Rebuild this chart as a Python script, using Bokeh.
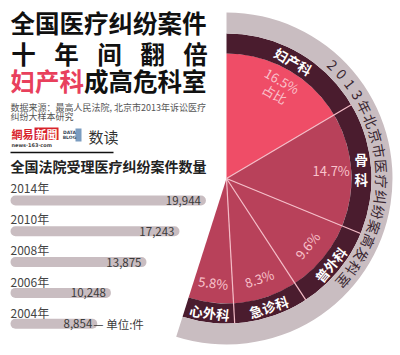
import numpy as np
from bokeh.plotting import figure
from bokeh.models import Range1d, ColumnDataSource
from bokeh.embed import file_html
from bokeh.resources import INLINE
from bokeh.core.properties import value

# ---------------- data ----------------
years = ["2014年", "2010年", "2008年", "2006年", "2004年"]
cases = [19944, 17243, 13875, 10248, 8854]
case_labels = ["19,944", "17,243", "13,875", "10,248", "8,854"]
unit_label = "— 单位:件"

departments = ["妇产科", "骨科", "普外科", "急诊科", "心外科"]
shares = [16.5, 14.7, 9.6, 8.3, 5.8]
share_labels = ["16.5%\n占比", "14.7%", "9.6%", "8.3%", "5.8%"]

ring_title = "2013年北京市医疗纠纷案高发科室"
title_1 = "全国医疗纠纷案件"
title_2 = "十年间翻倍"
title_3a = "妇产科"
title_3b = "成高危科室"
source_1 = "数据来源：最高人民法院, 北京市2013年诉讼医疗"
source_2 = "纠纷大样本研究"
bar_title = "全国法院受理医疗纠纷案件数量"

# ---------------- layout ----------------
W, H = 400, 355
FONT = value("Noto Sans CJK SC")

def Y(img_y):
    return H - img_y

PX_PER_CASE = 0.0098
BAR_X0 = 10

p = figure(width=W, height=H, x_range=Range1d(0, W), y_range=Range1d(0, H),
           output_backend="svg", toolbar_location=None, min_border=0,
           x_axis_location=None, y_axis_location=None)
p.xgrid.visible = False
p.ygrid.visible = False
p.outline_line_color = None
p.background_fill_color = "white"
p.border_fill_color = "white"
p.extra_x_ranges = {"cases": Range1d(-BAR_X0 / PX_PER_CASE, (W - BAR_X0) / PX_PER_CASE)}

# ---------------- titles ----------------
p.text(x=[10], y=[Y(22)], text=[title_1], text_font=FONT, text_font_size="24.5px",
       text_font_style="bold", text_color="#111111", text_baseline="middle", text_align="left")
t2x = [23 + i * 43 for i in range(len(title_2))]
p.text(x=t2x, y=[Y(53)] * len(title_2), text=list(title_2), text_font=FONT,
       text_font_size="24.5px", text_font_style="bold", text_color="#111111",
       text_baseline="middle", text_align="center")
p.text(x=[10], y=[Y(80)], text=[title_3a], text_font=FONT, text_font_size="24.5px",
       text_font_style="bold", text_color="#E8405C", text_baseline="middle", text_align="left")
p.text(x=[10 + 3 * 24.5], y=[Y(80)], text=[title_3b], text_font=FONT, text_font_size="24.5px",
       text_font_style="bold", text_color="#111111", text_baseline="middle", text_align="left")
p.text(x=[10, 10], y=[Y(106.5), Y(116)], text=[source_1, source_2], text_font=FONT,
       text_font_size="9px", text_color="#555555", text_baseline="middle", text_align="left")

# logo
p.text(x=[11], y=[Y(133)], text=["網易"], text_font=FONT, text_font_size="11px",
       text_font_style="bold", text_color="#D8232A", text_baseline="middle", text_align="left")
p.quad(left=[34], right=[58], bottom=[Y(139.5)], top=[Y(127)], fill_color="#D8232A", line_color=None)
p.text(x=[46], y=[Y(133)], text=["新聞"], text_font=FONT, text_font_size="11px",
       text_font_style="bold", text_color="white", text_baseline="middle", text_align="center")
p.text(x=[11], y=[Y(144)], text=["news·163·com"], text_font=value("DejaVu Sans"),
       text_font_size="5px", text_font_style="bold", text_color="#444444",
       text_baseline="middle", text_align="left")
p.quad(left=[75], right=[81], bottom=[Y(141)], top=[Y(128)], fill_color="#7A9CC0", line_color=None)
p.text(x=[69, 69], y=[Y(131.5), Y(137)], text=["DATA", "BLOG"], text_font=value("DejaVu Sans"),
       text_font_size="4.5px", text_font_style="bold", text_color="#3A4A5A",
       text_baseline="middle", text_align="center")
p.text(x=[88], y=[Y(136)], text=["数读"], text_font=FONT, text_font_size="15px",
       text_color="#333333", text_baseline="middle", text_align="left")

p.segment(x0=[10], y0=[Y(152)], x1=[113], y1=[Y(152)], line_color="#111111", line_width=1.5)
p.text(x=[10], y=[Y(165)], text=[bar_title], text_font=FONT, text_font_size="14px",
       text_font_style="bold", text_color="#222222", text_baseline="middle", text_align="left")

# ---------------- bars ----------------
bar_y = [Y(200 + i * 30.8) for i in range(len(cases))]
year_y = [Y(187 + i * 31.2) for i in range(len(cases))]
bsrc = ColumnDataSource(dict(y=bar_y, yl=year_y, v=cases, lab=case_labels, yr=years,
                             zero=[0] * len(cases)))
p.hbar(y="y", left="zero", right="v", height=10, source=bsrc, x_range_name="cases",
       fill_color="#C9BDC1", line_color=None, border_radius=5)
p.text(x="v", y="y", text="lab", source=bsrc, x_range_name="cases", x_offset=-5,
       text_font=FONT, text_font_size="11.5px", text_color="#3A3A3A",
       text_baseline="middle", text_align="right")
p.text(x=BAR_X0, y="yl", text="yr", source=bsrc, text_font=FONT,
       text_font_size="12px", text_color="#444444", text_baseline="middle", text_align="left")
p.text(x=[cases[-1]], y=[bar_y[-1]], text=[unit_label], x_range_name="cases", x_offset=-4,
       text_font=FONT, text_font_size="11.5px", text_color="#3A3A3A",
       text_baseline="middle", text_align="left")

# ---------------- pie ----------------
cx, cy = 226, Y(178)
R_PIE, R_DARK, R_GRAY = 125, 145, 166
frac = np.array(shares) / 100.0
cum = np.concatenate([[0.0], np.cumsum(frac)])
start = np.radians(90 - cum[1:] * 360)
end = np.radians(90 - cum[:-1] * 360)
mid = (start + end) / 2
pie_colors = ["#EF4D67"] + ["#B8415A"] * (len(shares) - 1)

p.wedge(x=[cx] * len(shares), y=[cy] * len(shares), radius=R_PIE, start_angle=list(start),
        end_angle=list(end), fill_color=pie_colors, line_color=None)
p.annular_wedge(x=cx, y=cy, inner_radius=R_PIE, outer_radius=R_DARK,
                start_angle=float(start[-1]), end_angle=float(end[0]),
                fill_color="#4A1C2E", line_color=None)
p.annular_wedge(x=cx, y=cy, inner_radius=R_DARK, outer_radius=R_GRAY,
                start_angle=float(start[-1]), end_angle=float(end[0]),
                fill_color="#C9BDC1", line_color=None)

bnd = np.radians(90 - cum[1:-1] * 360)
p.segment(x0=[cx] * len(bnd), y0=[cy] * len(bnd), x1=list(cx + R_DARK * np.cos(bnd)),
          y1=list(cy + R_DARK * np.sin(bnd)), line_color="#F4BCC7", line_width=1.2)

def text_angle(m):
    d = np.degrees(m)
    if d > 15:
        return float(np.radians(d - 90))
    if d < -15:
        return float(np.radians(d + 90))
    return 0.0

def explode(labels, angles, radius, spacing):
    """Split multi-line labels into separately placed lines."""
    xs, ys, ts, As = [], [], [], []
    for lab, a, m in zip(labels, angles, mid):
        lines = lab.split("\n")
        n = len(lines)
        bx, by = cx + radius * np.cos(m), cy + radius * np.sin(m)
        for j, ln in enumerate(lines):
            off = (j - (n - 1) / 2) * spacing
            xs.append(float(bx + off * np.sin(a)))
            ys.append(float(by - off * np.cos(a)))
            ts.append(ln)
            As.append(a)
    return xs, ys, ts, As

ang = [text_angle(m) for m in mid]
R_PCT, R_DEP = 105, 135
xs, ys, ts, As = explode(share_labels, ang, R_PCT, 15)
p.text(x=xs, y=ys, text=ts, angle=As, text_font=FONT, text_font_size="13px",
       text_color="#F9C3CC", text_baseline="middle", text_align="center")
dep_text = ["\n".join(d) if a == 0 else d for d, a in zip(departments, ang)]
xs, ys, ts, As = explode(dep_text, ang, R_DEP, 20)
p.text(x=xs, y=ys, text=ts, angle=As, text_font=FONT, text_font_size="13.5px",
       text_font_style="bold", text_color="white", text_baseline="middle", text_align="center")

# ring title, one character at a time along the arc
steps = [4.8 if ch.isdigit() else 5.7 for ch in ring_title]
theta = [47.0]
for i in range(1, len(ring_title)):
    theta.append(theta[-1] - (steps[i - 1] + steps[i]) / 2)
theta = np.radians(np.array(theta))
R_TXT = 155.5
p.text(x=list(cx + R_TXT * np.cos(theta)), y=list(cy + R_TXT * np.sin(theta)),
       text=list(ring_title), angle=list(theta - np.pi / 2), text_font=FONT,
       text_font_size="14px", text_color="#3A2731", text_baseline="middle", text_align="center")

open("out.html", "w").write(file_html(p, INLINE))
